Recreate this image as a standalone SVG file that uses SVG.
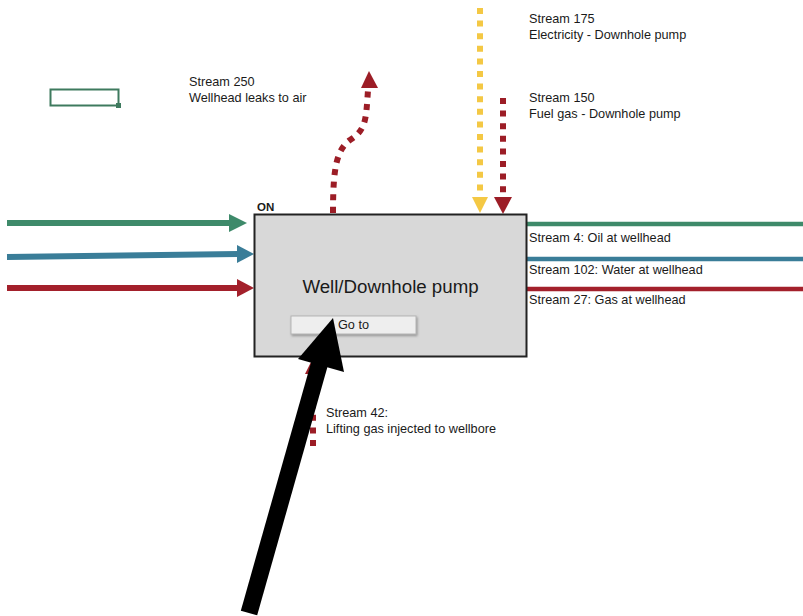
<svg xmlns="http://www.w3.org/2000/svg" width="803" height="616" viewBox="0 0 803 616">
<style>
text{font-family:"Liberation Sans",Arial,sans-serif;fill:#1a1a1a;font-size:12.7px}
.dot{fill:none;stroke-width:6;stroke-dasharray:6 6.6}
</style>
<defs>
<filter id="sh" x="-5%" y="-20%" width="110%" height="150%"><feDropShadow dx="1" dy="1.5" stdDeviation="0.8" flood-color="#777" flood-opacity="0.7"/></filter>
</defs>
<rect width="803" height="616" fill="#fff"/>
<g id="connectors">
  <line x1="7" y1="223" x2="230" y2="223" stroke="#3e8a6a" stroke-width="6"/>
  <polygon points="229,214 247,223 229,232" fill="#3e8a6a"/>
  <line x1="7" y1="257" x2="238" y2="254" stroke="#3a7d98" stroke-width="6"/>
  <polygon points="237,245 254,254 237,263" fill="#3a7d98"/>
  <line x1="7" y1="288" x2="238" y2="288" stroke="#a3202b" stroke-width="6"/>
  <polygon points="237,279 254,288 237,297" fill="#a3202b"/>
  <line x1="527" y1="224" x2="803" y2="224" stroke="#3e8a6a" stroke-width="4.5"/>
  <line x1="527" y1="259" x2="803" y2="259" stroke="#3a7d98" stroke-width="4.5"/>
  <line x1="527" y1="289" x2="803" y2="289" stroke="#a3202b" stroke-width="4.5"/>
  <line x1="480" y1="8" x2="480" y2="196" class="dot" stroke="#f4c844"/>
  <polygon points="472,197 488,197 480,213" fill="#f4c844"/>
  <line x1="503" y1="98" x2="503" y2="196" class="dot" stroke="#9c1d26"/>
  <polygon points="494,197 512,197 503,214" fill="#9c1d26"/>
  <path d="M333,213 C333,170 336,150 350,140 C366,130 366,120 368,90" class="dot" stroke="#9c1d26"/>
  <polygon points="369,71 378,88 361,88" fill="#9c1d26"/>
  <line x1="313" y1="446" x2="313" y2="375" class="dot" stroke="#9c1d26"/>
  <polygon points="313,358 305,374 321,374" fill="#9c1d26"/>
</g>
<g id="stream-labels">
  <text x="529" y="23">Stream 175</text>
  <text x="529" y="39">Electricity - Downhole pump</text>
  <text x="529" y="102">Stream 150</text>
  <text x="529" y="118">Fuel gas - Downhole pump</text>
  <text x="189" y="86">Stream 250</text>
  <text x="189" y="102">Wellhead leaks to air</text>
  <text x="529" y="242">Stream 4: Oil at wellhead</text>
  <text x="529" y="274">Stream 102: Water at wellhead</text>
  <text x="529" y="304">Stream 27: Gas at wellhead</text>
  <text x="326" y="417">Stream 42:</text>
  <text x="326" y="433">Lifting gas injected to wellbore</text>
</g>
<g id="small-box">
  <rect x="50.5" y="89.5" width="68" height="16" fill="#fff" stroke="#3e7a5e" stroke-width="2"/>
  <rect x="116" y="103" width="5" height="5" fill="#3e7a5e"/>
</g>
<g id="well-pump">
  <text x="257" y="211" style="font-weight:bold;font-size:11.5px">ON</text>
  <rect x="254.5" y="214.5" width="272" height="142" fill="#d8d8d8" stroke="#222" stroke-width="2"/>
  <text x="390.5" y="293" text-anchor="middle" style="font-size:18.7px">Well/Downhole pump</text>
  <g id="goto-button">
    <rect x="291" y="316" width="125" height="18" fill="#eeeeee" stroke="#b5b5b5" stroke-width="1" filter="url(#sh)"/>
    <text x="338" y="329">Go to</text>
  </g>
</g>
<g id="pointer-arrow">
  <line x1="249" y1="613" x2="322" y2="355" stroke="#000" stroke-width="17"/>
  <polygon points="333,318 298,359 344,372" fill="#000"/>
</g>
</svg>
